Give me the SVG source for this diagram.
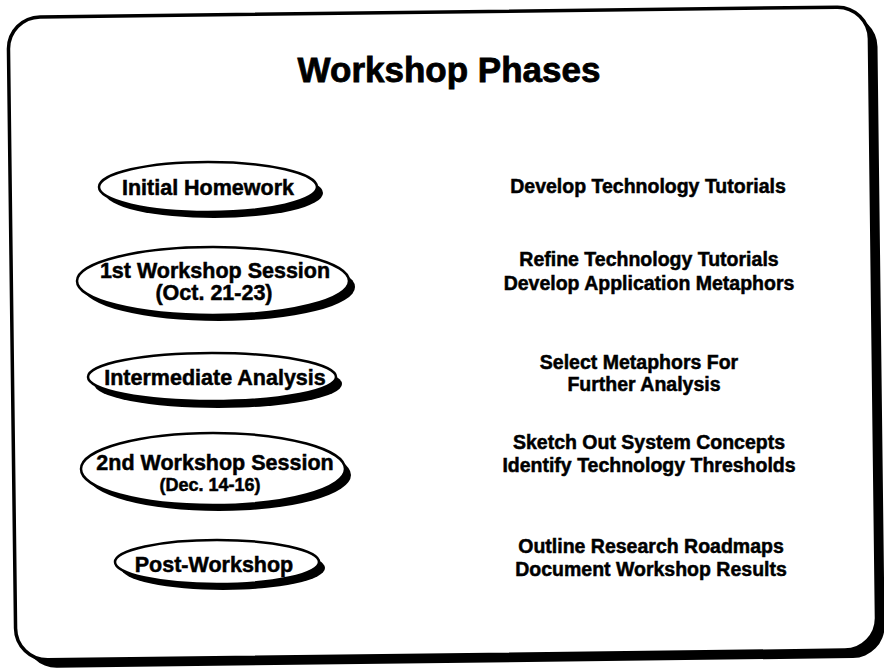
<svg xmlns="http://www.w3.org/2000/svg" width="884" height="670" viewBox="0 0 884 670">
<style>
text{font-family:"Liberation Sans",Arial,sans-serif;font-weight:bold;fill:#000;stroke:#000;stroke-width:0.5;text-anchor:middle}
.t{font-size:35px;stroke-width:0.8}
.n{font-size:21.5px}
.s{font-size:18px}
.d{font-size:19.5px}
.sh{fill:#000}
.el{fill:#fff;stroke:#000;stroke-width:2.5}
</style>
<rect width="884" height="670" fill="#fff"/>
<g id="frame" transform="rotate(-0.7 443 335)">
<rect x="21" y="20" width="860" height="643" rx="32" fill="#000"/>
<rect x="12" y="12" width="861" height="643" rx="32" fill="#fff" stroke="#000" stroke-width="3.5"/>
</g>
<text class="t" x="449" y="82">Workshop Phases</text>
<g id="connectors"></g>
<g id="n1">
<ellipse class="sh" cx="214" cy="193" rx="109" ry="25"/>
<ellipse class="el" cx="208" cy="187" rx="109" ry="25"/>
<text class="n" x="208" y="195">Initial Homework</text>
</g>
<g id="n2">
<ellipse class="sh" cx="219" cy="287" rx="136" ry="34"/>
<ellipse class="el" cx="213" cy="281" rx="136" ry="34"/>
<text class="n" x="215" y="278">1st Workshop Session</text>
<text class="n" x="214" y="300">(Oct. 21-23)</text>
</g>
<g id="n3">
<ellipse class="sh" cx="218" cy="384" rx="124" ry="24"/>
<ellipse class="el" cx="212" cy="377" rx="124" ry="24"/>
<text class="n" x="215" y="385">Intermediate Analysis</text>
</g>
<g id="n4">
<ellipse class="sh" cx="219" cy="475" rx="132" ry="36"/>
<ellipse class="el" cx="213" cy="469" rx="132" ry="36"/>
<text class="n" x="215" y="470">2nd Workshop Session</text>
<text class="s" x="210" y="491">(Dec. 14-16)</text>
</g>
<g id="n5">
<ellipse class="sh" cx="223" cy="568" rx="102" ry="22"/>
<ellipse class="el" cx="217" cy="562" rx="102" ry="22"/>
<text class="n" x="214" y="572">Post-Workshop</text>
</g>
<g id="r1"><text class="d" x="648" y="193">Develop Technology Tutorials</text></g>
<g id="r2">
<text class="d" x="649" y="266">Refine Technology Tutorials</text>
<text class="d" x="649" y="290">Develop Application Metaphors</text>
</g>
<g id="r3">
<text class="d" x="639" y="369">Select Metaphors For</text>
<text class="d" x="644" y="391">Further Analysis</text>
</g>
<g id="r4">
<text class="d" x="649" y="449">Sketch Out System Concepts</text>
<text class="d" x="649" y="472">Identify Technology Thresholds</text>
</g>
<g id="r5">
<text class="d" x="651" y="553">Outline Research Roadmaps</text>
<text class="d" x="651" y="576">Document Workshop Results</text>
</g>
</svg>
